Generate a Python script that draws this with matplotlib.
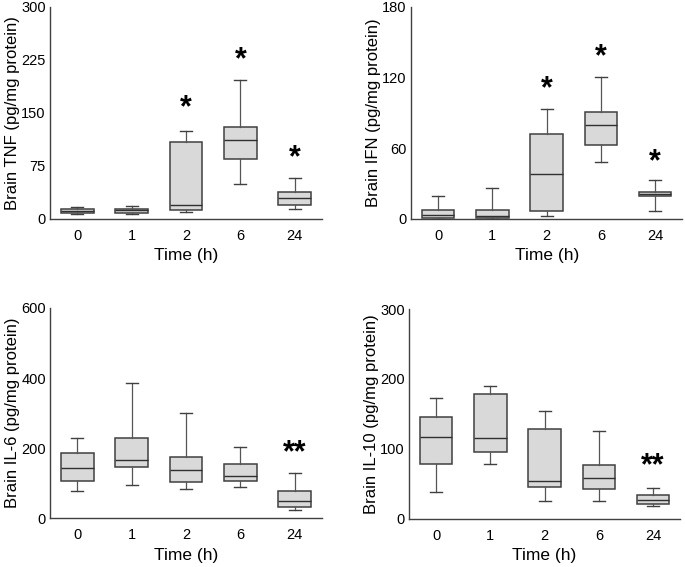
import matplotlib
matplotlib.use('Agg')
import matplotlib.pyplot as plt

plt.rcParams['font.family'] = ['Liberation Sans', 'DejaVu Sans']

times = ['0', '1', '2', '6', '24']

# whisker low, q1, median, q3, whisker high for each time point
tnf_low = [7, 7, 10, 50, 14]
tnf_q1 = [8, 9, 13, 85, 19]
tnf_med = [11, 12, 19, 112, 29]
tnf_q3 = [14, 14, 109, 130, 38]
tnf_high = [17, 18, 124, 196, 58]

ifn_low = [0, 0, 2.3, 48, 6.5]
ifn_q1 = [0.8, 0.8, 7, 63, 19]
ifn_med = [3.7, 2.3, 38, 80, 20.7]
ifn_q3 = [7.6, 7.4, 72, 91, 22.6]
ifn_high = [19, 26.6, 93, 120, 33]

il6_low = [79, 96, 83, 88, 24]
il6_q1 = [107, 145, 104, 107, 32]
il6_med = [143, 165, 138, 121, 49]
il6_q3 = [187, 229, 174, 156, 79]
il6_high = [228, 386, 301, 204, 130]

il10_low = [38, 79, 25, 26, 19]
il10_q1 = [79, 96, 45, 43, 21]
il10_med = [117, 115, 54, 58, 27]
il10_q3 = [146, 179, 129, 77, 34]
il10_high = [173, 190, 154, 126, 44]

# significance marks: (time index, y value, label)
tnf_marks = [(2, 157, '*'), (3, 225, '*'), (4, 86, '*')]
ifn_marks = [(2, 110, '*'), (3, 137, '*'), (4, 48, '*')]
il6_marks = [(4, 184, '**')]
il10_marks = [(4, 75, '**')]

panels = [
    ('Brain TNF (pg/mg protein)', [0, 75, 150, 225, 300], 300,
     (tnf_low, tnf_q1, tnf_med, tnf_q3, tnf_high), tnf_marks,
     [0.073, 0.614, 0.397, 0.374]),
    ('Brain IFN (pg/mg protein)', [0, 60, 120, 180], 180,
     (ifn_low, ifn_q1, ifn_med, ifn_q3, ifn_high), ifn_marks,
     [0.600, 0.614, 0.396, 0.374]),
    ('Brain IL-6 (pg/mg protein)', [0, 200, 400, 600], 600,
     (il6_low, il6_q1, il6_med, il6_q3, il6_high), il6_marks,
     [0.073, 0.086, 0.397, 0.371]),
    ('Brain IL-10 (pg/mg protein)', [0, 100, 200, 300], 300,
     (il10_low, il10_q1, il10_med, il10_q3, il10_high), il10_marks,
     [0.597, 0.085, 0.396, 0.370]),
]

fig = plt.figure(figsize=(6.85, 5.67), dpi=100)

for ylabel, yticks, ymax, (lo, q1, med, q3, hi), marks, rect in panels:
    ax = fig.add_axes(rect)
    stats = []
    for i in range(len(times)):
        stats.append({'whislo': lo[i], 'q1': q1[i], 'med': med[i],
                      'q3': q3[i], 'whishi': hi[i], 'label': times[i]})
    ax.bxp(stats, positions=range(len(times)), widths=0.6, showfliers=False,
           patch_artist=True, capwidths=0.22,
           boxprops=dict(facecolor='#d9d9d9', edgecolor='#404040', linewidth=1.1),
           medianprops=dict(color='#303030', linewidth=1.0),
           whiskerprops=dict(color='#555555', linewidth=0.9),
           capprops=dict(color='#404040', linewidth=1.0))
    for idx, yv, lab in marks:
        ax.text(idx, yv, lab, ha='center', va='center', fontsize=22,
                fontweight='bold', color='black')
    ax.set_xlim(-0.5, 4.5)
    ax.set_ylim(0, ymax)
    ax.set_yticks(yticks)
    ax.set_xticks(range(len(times)))
    ax.set_xticklabels(times)
    ax.tick_params(length=0, labelsize=10.5)
    ax.tick_params(axis='x', pad=7)
    ax.tick_params(axis='y', pad=3)
    ax.spines['top'].set_visible(False)
    ax.spines['right'].set_visible(False)
    for s in ('left', 'bottom'):
        ax.spines[s].set_color('#404040')
        ax.spines[s].set_linewidth(1.0)
    ax.set_xlabel('Time (h)', fontsize=12.5, labelpad=4)
    ax.set_ylabel(ylabel, fontsize=12)
    ax.yaxis.set_label_coords(-0.112, 0.5)

fig.savefig('out.png', dpi=100)
